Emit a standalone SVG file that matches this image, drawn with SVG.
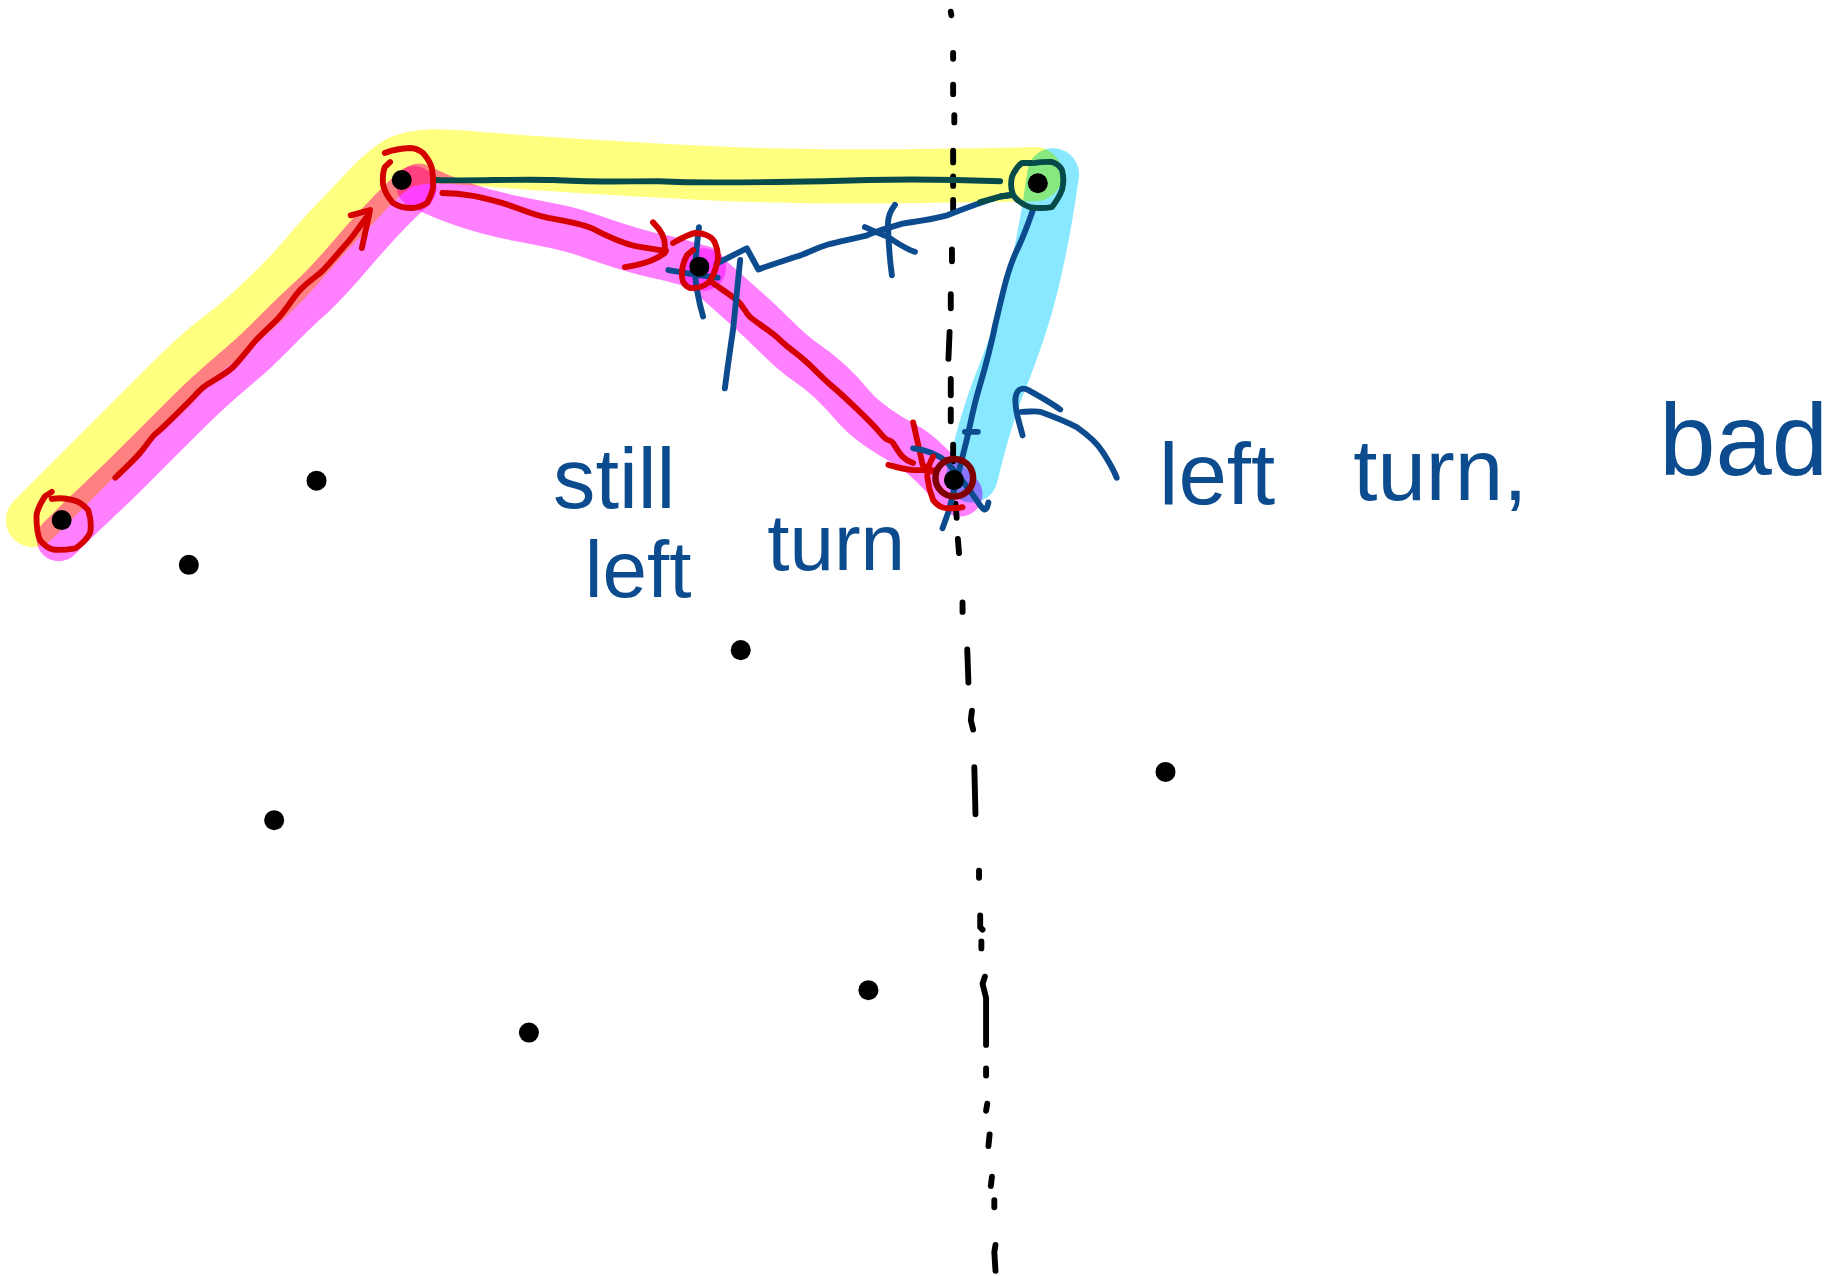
<svg xmlns="http://www.w3.org/2000/svg" width="1845" height="1276" viewBox="0 0 1845 1276">
<style>
.hl{fill:none;stroke-linecap:round;stroke-linejoin:round;mix-blend-mode:multiply}
.y{stroke:#ffff80;stroke-width:46}
.p{stroke:#ff80ff;stroke-width:38}
.c{stroke:#88e8ff;stroke-width:44}
.red{fill:none;stroke:#d40000;stroke-width:5;stroke-linecap:round;stroke-linejoin:round}
.dred{fill:none;stroke:#800000;stroke-width:5.5}
.blue{fill:none;stroke:#0b4b8e;stroke-width:5;stroke-linecap:round;stroke-linejoin:round}
.teal{fill:none;stroke:#064b4a;stroke-width:5;stroke-linecap:round;stroke-linejoin:round}
.dash{fill:none;stroke:#000;stroke-width:5;stroke-linecap:round;stroke-linejoin:round}
.dot{fill:#000}
.hw{fill:#0b4b8e;font-family:"Liberation Sans","DejaVu Sans",sans-serif}
</style>
<rect width="1845" height="1276" fill="#fff"/>
<g transform="scale(1.1767)">
<g id="highlights">
<path class="hl y" d="M28,442 C55,415 70,400 90,380 S120,350 140,330 S170,300 190,285 S225,255 240,240 S270,205 290,185 S320,150 340,138 C360,130 380,133 420,136 C500,142 560,145 620,148 C700,151 780,150 880,148"/>
<path class="hl p" d="M50,458 C75,433 90,420 110,400 S140,370 160,350 S195,318 210,305 S245,270 262,255 S295,220 310,203 S335,175 352,160"/>
<path class="hl p" d="M356,158 C380,170 410,180 440,186 S480,193 500,200 S545,215 560,218 S590,226 598,228"/>
<path class="hl p" d="M598,230 C615,245 630,258 645,272 S670,298 685,308 S715,333 725,345 S755,370 770,378 S800,405 816,420"/>
<path class="hl c" d="M895,148 C890,185 884,215 878,240 S860,300 850,325 S832,380 826,405"/>
</g>
<g id="guide">
<path class="dash" d="M808,10 L808.5,13 M810,45 L810,50 M810,72 L810,80 M811,98 L811,104 M810,128 L810,138 M810,150 L810,158 M810,170 L810,178 M809,212 L809,222 M808,250 L808,262 M807,282 L806,305 M808,322 L808,336 M808,348 L808,358 M810,378 L810,392 M812,428 L813,440 M814,458 L815,470 M818,512 L818,520 M822,552 L823,580 M826,604 L825,612 L827,620 M828,652 L829,692 M832,740 L832,746 M833,778 L833,788 L835,790 M834,800 L834,806 M837,830 L835,836 L838,848 L838,888 M838,908 L838,914 M839,938 L838,944 M841,964 L840,974 M843,1000 L842,1008 M845,1020 L845,1026 M846,1058 L845,1064 L846,1080"/>
</g>
<g id="connectors">
<path class="red" d="M98,406 C106,398 113,392 119,385 S128,372 133,368 S152,350 159,343 S168,333 173,329 S192,318 198,312 S210,298 215,292 S228,279 235,272 S249,253 255,246.5 S266,237 272,232 S289,213 295,206.5 S307,190 312,184"/>
<path class="red" d="M298,183 L314.5,178.5 L307.5,210.8"/>
<path class="red" d="M376,164 C395,164 410,168 425,172 S450,182 465,185 S495,190 505,195 S530,208 545,210 S560,213 566,213"/>
<path class="red" d="M555,189 C560,194 565,201 565,208 L565,215 C558,220 550,224 531,227"/>
<path class="red" d="M605,240 C612,245 620,250 626,255 S633,265 637,269 S656,282 663,289 S680,302 690,312 S702,324 708,329 S740,358 748,368 S756,372 759,376.5 S764,385 767,388 S772,392 776,393.5"/>
<path class="red" d="M776,359 C779,372 782,385 784,395 L793,401 M755,395 C762,397 770,399 776,399.5 L793,399.5"/>
<path class="teal" d="M370,153 C400,154 440,152 470,153 C500,155 530,154 560,154 C600,156 650,155 700,154 C750,152 800,152 850,154"/>
<path class="blue" d="M609,224 L634.6,211 L644.5,229 C655,225 665,222 677,218 C685,216 690,212 703,208 C710,206 720,204 737,200 C740,198 750,195 767,190 C780,188 790,187 805,183 C820,177 840,170 850,167 L860,165.5"/>
<path class="teal" d="M833,171.7 L850,167 L860,165.7"/>
<path class="blue" d="M629,221 C627,240 625,260 623,280 C620,300 618,315 616,330"/>
<path class="blue" d="M760.6,174 C756,180 754.6,185 754.6,190 C755,205 756,220 758,234 M735,193 C742,196 748,199 754,201 C762,206 770,212 777.6,214"/>
<path class="blue" d="M594,193 C592,210 590.6,225 590.6,232 C592,250 595,260 597.5,269 M568,229.5 C582,232 596,234 610,236"/>
<path class="blue" d="M878,178 C872,195 868,205 864,213 C856,230 852,250 846,275 C841,300 838,310 832,330 C826,350 824,365 820,380 C815,400 810,420 806,435 L801,449"/>
<path class="blue" d="M820,367 L831,367"/>
<path class="blue" d="M776,381 C785,382 796,385 805,393 C815,405 825,418 830,425 C835,433 838,437 840,427"/>
<path class="blue" d="M869,370 C866,358 862,348 863,338 C864,331 868,329 873,331 C882,336 893,342 901,348"/>
<path class="blue" d="M868,350 C875,350 880,349 884,350 C895,354 905,358 915,363 C925,370 932,376 937,384 C942,392 946,398 949,406"/>
</g>
<g id="node-p1">
<circle class="dot" cx="52.4" cy="442" r="8.5"/>
<path class="red" d="M44,418 L38,422 C33,430 31,435 31,439 C31,448 32,455 34,459 C38,464 41,466 45,467 C52,468 58,467 64,466 C70,462 74,458 76.5,453 C78,446 77,440 75,433.5 C71,429 67,426 62,425 C55,423 50,423 44,424"/>
</g>
<g id="node-p2">
<circle class="dot" cx="341.4" cy="153" r="8.5"/>
<path class="red" d="M327,130 C335,127 342,126 348.5,125.8 C353,126 357,128 359.5,130 C363,134 366,139 367,142.8 C368,148 368.5,154 368,159.8 C367,165 365,169 363,172.5 C359,175 355,176.5 350,176.8 C344,176.8 338,175 334,172.5 C330,168 327,163 325.5,157 C325,151 325.5,146 327,142 L331.5,137.7"/>
</g>
<g id="node-p3">
<circle class="dot" cx="594.3" cy="226.6" r="8.5"/>
<path class="red" d="M572,206.5 C580,202 585,199 590.6,198 C600,198 606,202 607.6,206.5 C611,214 610,218 610,221 C608,230 605,237 601.7,240.5 C597,244 591,245 586.4,244.8 C582,243 580,240 579.6,235.4 C579,228 581,222 583.9,216.7 L589,212.5"/>
</g>
<g id="node-p4">
<circle class="dred" cx="811" cy="406" r="16"/>
<circle class="dot" cx="810.7" cy="408" r="8.5"/>
<path class="red" d="M793,388 C789,395 788,400 788,405 C789,415 791,420 793,425 C797,430 801,432 805,432 C810,432 815,432 818,431"/>
</g>
<g id="node-p5">
<circle class="dot" cx="882" cy="155.7" r="8.5"/>
<path class="teal" d="M879.6,138.5 C885,137.5 890,137.5 894,137.7 C898,139 901,141.5 902.5,144.5 C904,150 904,156 902.5,161.5 C900,168 897,172 894,176 C888,177 881,177 875.3,176 C869,174 864,170 861,165.7 C859,161 859,155 860,150.4 C862,145 865,141 868.5,138.5 L877,138.5"/>
</g>
<g id="node-a"><circle class="dot" cx="269" cy="408.5" r="8.5"/></g>
<g id="node-b"><circle class="dot" cx="160.5" cy="480" r="8.5"/></g>
<g id="node-c"><circle class="dot" cx="629.5" cy="552.5" r="8.5"/></g>
<g id="node-d"><circle class="dot" cx="990.5" cy="656" r="8.5"/></g>
<g id="node-e"><circle class="dot" cx="233" cy="697" r="8.5"/></g>
<g id="node-f"><circle class="dot" cx="738" cy="841.5" r="8.5"/></g>
<g id="node-g"><circle class="dot" cx="449.5" cy="877.5" r="8.5"/></g>
<g id="labels">
<text class="hw" font-size="72"><tspan x="470" y="432">still</tspan><tspan x="497" y="507" font-size="68">left</tspan><tspan x="652" y="484" font-size="68">turn</tspan></text>
<text class="hw" font-size="74"><tspan x="985" y="428">left</tspan><tspan x="1150" y="425">turn,</tspan><tspan x="1410" y="404" font-size="86">bad</tspan></text>
</g>
</g>
</svg>
